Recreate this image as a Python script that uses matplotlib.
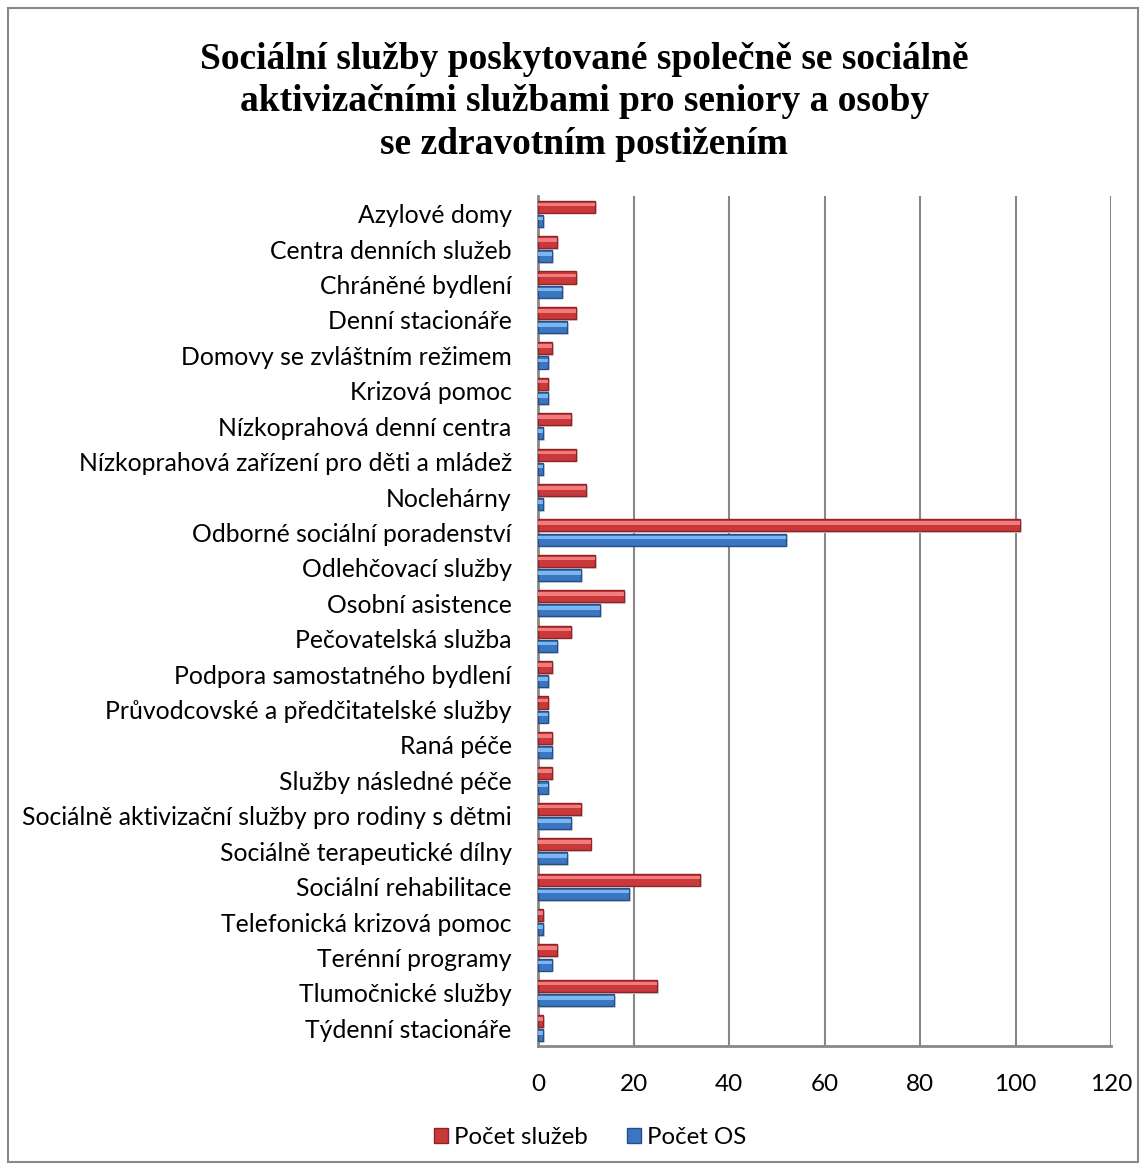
import matplotlib.pyplot as plt
import numpy as np
from matplotlib.patches import Rectangle

categories = [
    "Azylové domy", "Centra denních služeb", "Chráněné bydlení", "Denní stacionáře",
    "Domovy se zvláštním režimem", "Krizová pomoc", "Nízkoprahová denní centra",
    "Nízkoprahová zařízení pro děti a mládež", "Noclehárny",
    "Odborné sociální poradenství", "Odlehčovací služby", "Osobní asistence",
    "Pečovatelská služba", "Podpora samostatného bydlení",
    "Průvodcovské a předčitatelské služby", "Raná péče", "Služby následné péče",
    "Sociálně aktivizační služby pro rodiny s dětmi", "Sociálně terapeutické dílny",
    "Sociální rehabilitace", "Telefonická krizová pomoc", "Terénní programy",
    "Tlumočnické služby", "Týdenní stacionáře",
]
pocet_sluzeb = [12, 4, 8, 8, 3, 2, 7, 8, 10, 101, 12, 18, 7, 3, 2, 3, 3, 9, 11, 34, 1, 4, 25, 1]
pocet_os = [1, 3, 5, 6, 2, 2, 1, 1, 1, 52, 9, 13, 4, 2, 2, 3, 2, 7, 6, 19, 1, 3, 16, 1]
xticks = [0, 20, 40, 60, 80, 100, 120]

title = ("Sociální služby poskytované společně se sociálně\n"
         "aktivizačními službami pro seniory a osoby\n"
         "se zdravotním postižením")

plt.rcParams['font.family'] = ['Lato', 'DejaVu Sans']

fig = plt.figure(figsize=(11.46, 11.69), dpi=100)
ax = fig.add_axes([0.4695, 0.1052, 0.5, 0.7271])

y = np.arange(len(categories))
h = 0.34
off = 0.2

red, red_dark, red_light = "#c9393c", "#8e2426", "#f27b7d"
blue, blue_dark, blue_light = "#3b76c2", "#264f86", "#7db5ef"

# soft shadow under each bar
ax.barh(y - off + 0.05, pocet_sluzeb, height=h, left=0.4, color="#d8d8d8",
        linewidth=0, zorder=2)
ax.barh(y + off + 0.05, pocet_os, height=h, left=0.4, color="#d8d8d8",
        linewidth=0, zorder=2)

# main bars plus a lighter strip on top for a bevelled look
ax.barh(y - off, pocet_sluzeb, height=h, color=red, edgecolor=red_dark, linewidth=1,
        label="Počet služeb", zorder=3)
ax.barh(y - off - h * 0.18, pocet_sluzeb, height=h * 0.3, color=red_light,
        linewidth=0, zorder=4)
ax.barh(y + off, pocet_os, height=h, color=blue, edgecolor=blue_dark, linewidth=1,
        label="Počet OS", zorder=3)
ax.barh(y + off - h * 0.18, pocet_os, height=h * 0.3, color=blue_light,
        linewidth=0, zorder=4)

ax.set_ylim(len(categories) - 0.5, -0.5)
ax.set_xlim(0, 120)
ax.set_xticks(xticks)
ax.set_yticks(y)
ax.set_yticklabels(categories, fontsize=17.8)
ax.tick_params(axis='x', labelsize=17.5, length=0, pad=20)
ax.tick_params(axis='y', length=0, pad=19)
ax.xaxis.grid(True, color="#888888", linewidth=1.5, zorder=0)

for side in ["top", "right"]:
    ax.spines[side].set_visible(False)
for side in ["left", "bottom"]:
    ax.spines[side].set_color("#888888")
    ax.spines[side].set_linewidth(2)

fig.text(0.51, 0.964, title, ha="center", va="top", fontsize=27, fontweight="bold",
         family="Liberation Serif", linespacing=1.27)

handles, labels = ax.get_legend_handles_labels()
fig.legend(handles, labels, loc="center", bbox_to_anchor=(0.515, 0.027), ncol=2,
           frameon=False, fontsize=17.3, handlelength=0.6, handleheight=0.6,
           handletextpad=0.25, columnspacing=1.6)

fig.patches.append(Rectangle((0.007, 0.006), 0.986, 0.987, transform=fig.transFigure,
                             fill=False, edgecolor="#888888", linewidth=1.5))

fig.savefig("out.png", dpi=100, facecolor="white")
